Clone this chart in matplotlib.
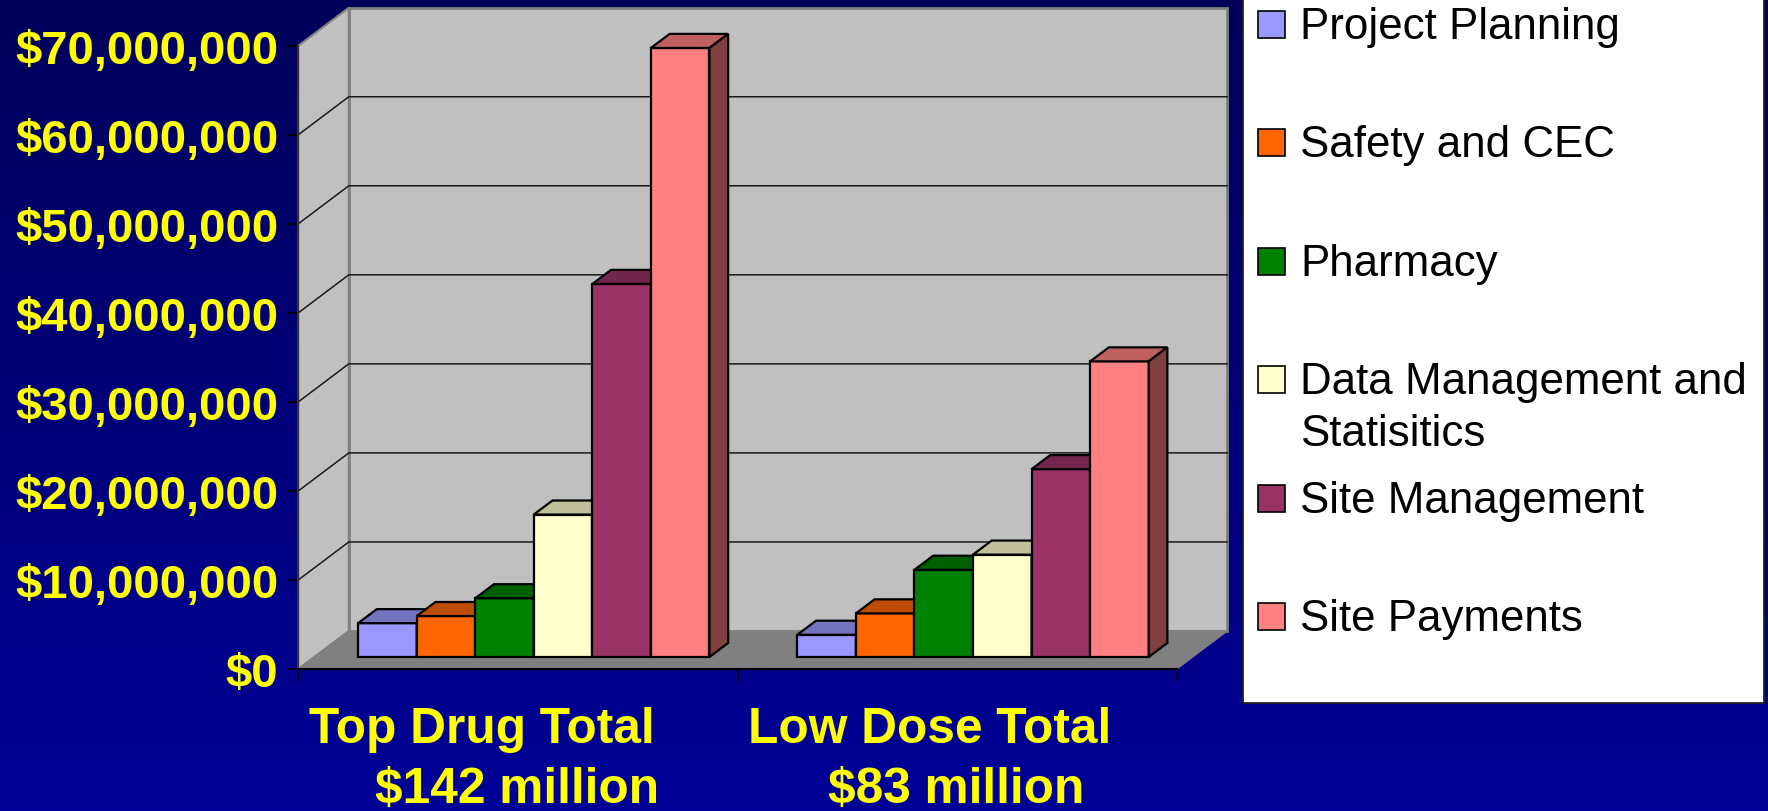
import numpy as np
import matplotlib.pyplot as plt
from matplotlib.patches import Polygon, Rectangle
from matplotlib.colors import to_rgb

plt.rcParams['font.family'] = ['Liberation Sans', 'DejaVu Sans']

# cost breakdown per trial arm (US dollars)
groups = ["Top Drug Total", "Low Dose Total"]
group_totals = ["$142 million", "$83 million"]
series = ["Project Planning", "Safety and CEC", "Pharmacy",
          "Data Management and\nStatisitics", "Site Management", "Site Payments"]
top_drug = [3.8e6, 4.6e6, 6.6e6, 16.0e6, 41.9e6, 68.4e6]
low_dose = [2.5e6, 4.9e6, 9.8e6, 11.5e6, 21.1e6, 33.2e6]
colors = ["#9999FF", "#FF6600", "#008000", "#FFFFCC", "#993366", "#FF8080"]
y_ticks = np.arange(0, 70e6 + 1, 10e6)
y_labels = ["${:,.0f}".format(v) for v in y_ticks]

W, H = 1768, 812
YMAX = 70e6
fig = plt.figure(figsize=(W / 100, H / 100), dpi=100)

# blue gradient backdrop
bg = fig.add_axes([0, 0, 1, 1], zorder=-10)
grad = np.linspace(0, 1, 256)[:, None]
top_c, bot_c = np.array(to_rgb("#00005A")), np.array(to_rgb("#000096"))
img = top_c[None, None, :] * (1 - grad[:, :, None]) + bot_c[None, None, :] * grad[:, :, None]
bg.imshow(img, aspect='auto', extent=[0, 1, 0, 1])
bg.axis('off')

# front plane of the 3d box, in pixels
left_px, right_px, base_px, top_px = 298.3, 1176.7, 670.0, 46.7
ax = fig.add_axes([left_px / W, (H - base_px) / H,
                   (right_px - left_px) / W, (base_px - top_px) / H])
ax.set_xlim(0, 2)
ax.set_ylim(0, YMAX)
ax.patch.set_alpha(0)

# depth of the box converted to data units
DX = 50.5 / (right_px - left_px) * 2
DY = 38.0 / (base_px - top_px) * YMAX

wall = "#C0C0C0"
ax.add_patch(Polygon([(0, 0), (DX, DY), (DX, YMAX + DY), (0, YMAX)],
                     fc=wall, ec="#808080", lw=1.5, clip_on=False, zorder=0.5))
ax.add_patch(Polygon([(DX, DY), (2 + DX, DY), (2 + DX, YMAX + DY), (DX, YMAX + DY)],
                     fc=wall, ec="#808080", lw=2, clip_on=False, zorder=0.5))
ax.add_patch(Polygon([(0, 0), (2, 0), (2 + DX, DY), (DX, DY)],
                     fc="#808080", ec="#808080", lw=1, clip_on=False, zorder=0.6))
for v in y_ticks[1:-1]:
    ax.plot([0, DX, 2 + DX], [v, v + DY, v + DY], color="#1a1a1a", lw=1.1,
            clip_on=False, zorder=0.7)


def shade(c, f):
    return tuple(np.array(to_rgb(c)) * f)


# columns: width 1/7.5 of a category, gap 1.5 widths, centred in depth
w = 1 / 7.5
F0, BD = 0.315, 0.37
z = 2
for g, vals in enumerate([top_drug, low_dose]):
    for i, v in enumerate(vals):
        x0 = g + 0.75 * w + i * w + F0 * DX
        y0 = F0 * DY
        y1 = y0 + v
        ddx, ddy = BD * DX, BD * DY
        kw = dict(ec="black", lw=1.6, clip_on=False, zorder=z)
        ax.add_patch(Rectangle((x0, y0), w, v, fc=colors[i], **kw))
        ax.add_patch(Polygon([(x0, y1), (x0 + w, y1), (x0 + w + ddx, y1 + ddy),
                              (x0 + ddx, y1 + ddy)], fc=shade(colors[i], 0.75), **kw))
        ax.add_patch(Polygon([(x0 + w, y0), (x0 + w + ddx, y0 + ddy),
                              (x0 + w + ddx, y1 + ddy), (x0 + w, y1)],
                             fc=shade(colors[i], 0.5), **kw))
        z += 0.01

for s in ['top', 'right']:
    ax.spines[s].set_visible(False)
ax.spines['left'].set_color("#333333")
ax.spines['left'].set_linewidth(1.5)
ax.spines['bottom'].set_color("black")
ax.spines['bottom'].set_linewidth(1.5)

ax.set_yticks(y_ticks, y_labels, fontweight='bold')
ax.tick_params(axis='y', direction='out', length=8, width=1.2, color='black',
               pad=6.5, labelsize=34, labelcolor='#FFFF00')
ax.set_xticks([0, 1, 2], ["", "", ""])
ax.tick_params(axis='x', direction='out', length=8.5, width=1.2, color='black')

# category captions, second line holds the total
first_shift = [-36, -27]
for g in range(len(groups)):
    ax.annotate(groups[g], xy=(g + 0.5, 0), xytext=(first_shift[g], -73),
                textcoords='offset pixels', ha='center', va='baseline',
                fontsize=35.7, fontweight='bold', color='#FFFF00', annotation_clip=False)
    ax.annotate(group_totals[g], xy=(g + 0.5, 0), xytext=(-1, -133),
                textcoords='offset pixels', ha='center', va='baseline',
                fontsize=35.7, fontweight='bold', color='#FFFF00', annotation_clip=False)


def fxy(px, py):
    return px / W, 1 - py / H


# legend box on the right
bx0, bx1, by1 = 1243.3, 1764.0, 704.0
fig.patches.append(Rectangle(fxy(bx0, by1), (bx1 - bx0) / W, (by1 + 10) / H,
                             transform=fig.transFigure, fc='white', ec='#222222',
                             lw=1.3, zorder=5))
for k, name in enumerate(series):
    base = 39 + k * 118.5
    fig.patches.append(Rectangle(fxy(1258.3, base - 0.5), 27 / W, 27 / H,
                                 transform=fig.transFigure, fc=colors[k],
                                 ec='black', lw=1.2, zorder=6))
    for j, line in enumerate(name.split("\n")):
        fig.text(*fxy(1300, base + j * 52), line, fontsize=31.6, color='black',
                 ha='left', va='baseline', zorder=7)

fig.savefig("out.png", dpi=100)
